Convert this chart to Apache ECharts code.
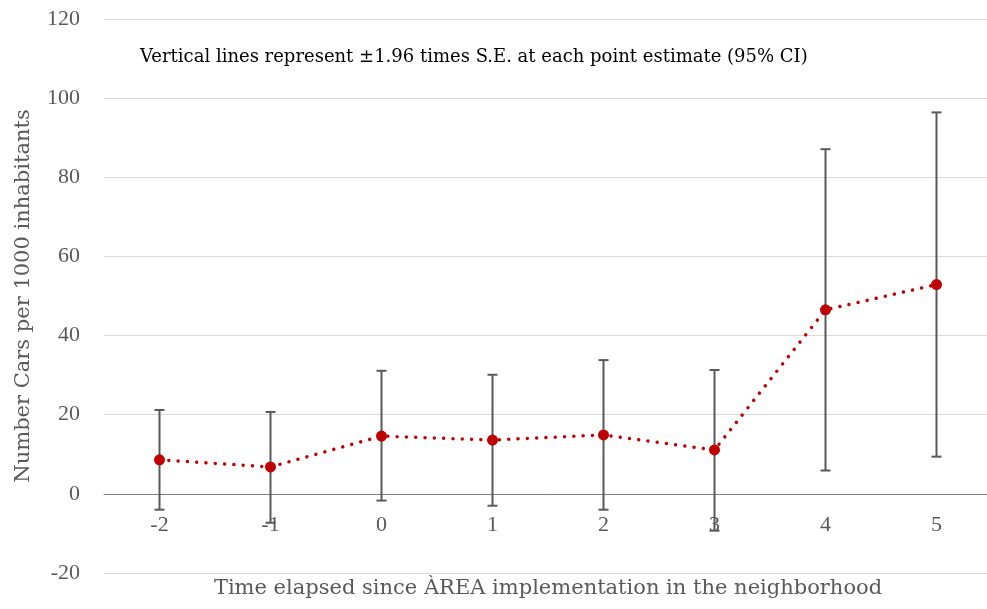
<!DOCTYPE html>
<html>
<head>
<meta charset="utf-8">
<script src="https://cdn.jsdelivr.net/npm/echarts@6/dist/echarts.min.js"></script>
<style>html,body{margin:0;padding:0;background:#fff;}#c{width:987px;height:609px;}</style>
</head>
<body>
<div id="c"></div>
<script>
const categories = ['-2', '-1', '0', '1', '2', '3', '4', '5'];
const estimates = [8.6, 6.8, 14.6, 13.6, 14.9, 11.1, 46.5, 52.9];
const upperCI = [21.2, 20.7, 31.1, 30.1, 33.8, 31.3, 87.1, 96.4];
const lowerCI = [-4.0, -7.3, -1.7, -3.0, -4.0, -9.3, 5.9, 9.4];
const yTicks = { min: -20, max: 120, interval: 20 };

const FONT = '"DejaVu Serif", serif';
const NUMFONT = '"Liberation Serif", serif';
const chart = echarts.init(document.getElementById('c'));
const errData = categories.map((c, i) => [i, lowerCI[i], upperCI[i]]);

chart.setOption({
  animation: false,
  backgroundColor: '#fff',
  grid: { left: 104, right: -5, top: 19, bottom: 36, outerBoundsMode: 'none', containLabel: false },
  xAxis: {
    type: 'category',
    data: categories,
    boundaryGap: true,
    offset: -79,
    axisLine: { onZero: false, lineStyle: { color: '#7f7f7f', width: 1 } },
    axisTick: { show: false },
    axisLabel: { color: '#595959', fontSize: 22, fontFamily: NUMFONT, margin: 20 }
  },
  yAxis: {
    type: 'value',
    min: yTicks.min, max: yTicks.max, interval: yTicks.interval,
    axisLine: { show: false },
    axisTick: { show: false },
    splitLine: { lineStyle: { color: '#d9d9d9', width: 1 } },
    axisLabel: { color: '#595959', fontSize: 22, fontFamily: NUMFONT, margin: 24 },
    name: 'Number Cars per 1000 inhabitants',
    nameLocation: 'middle',
    nameGap: 70,
    nameTextStyle: { color: '#595959', fontSize: 21, fontFamily: FONT }
  },
  graphic: [
    {
      type: 'text', x: 140, y: 48,
      style: { text: 'Vertical lines represent ±1.96 times S.E. at each point estimate (95% CI)', fill: '#000', font: '18px ' + FONT }
    },
    {
      type: 'text', x: 548, y: 578,
      style: { text: 'Time elapsed since ÀREA implementation in the neighborhood', fill: '#595959', font: '21px ' + FONT, textAlign: 'center' }
    }
  ],
  series: [
    {
      type: 'custom',
      data: errData,
      z: 2,
      renderItem: function (params, api) {
        const x = api.value(0);
        const lo = api.coord([x, api.value(1)]);
        const hi = api.coord([x, api.value(2)]);
        const cap = 5;
        const st = { stroke: '#595959', lineWidth: 2 };
        return {
          type: 'group',
          children: [
            { type: 'line', shape: { x1: lo[0], y1: lo[1], x2: hi[0], y2: hi[1] }, style: st },
            { type: 'line', shape: { x1: lo[0] - cap, y1: lo[1], x2: lo[0] + cap, y2: lo[1] }, style: st },
            { type: 'line', shape: { x1: hi[0] - cap, y1: hi[1], x2: hi[0] + cap, y2: hi[1] }, style: st }
          ]
        };
      }
    },
    {
      type: 'line',
      data: estimates,
      z: 3,
      symbol: 'circle',
      symbolSize: 11,
      itemStyle: { color: '#c00000' },
      lineStyle: { color: '#c00000', width: 3.5, type: [0.01, 9.3], cap: 'round' }
    }
  ]
});
</script>
</body>
</html>
